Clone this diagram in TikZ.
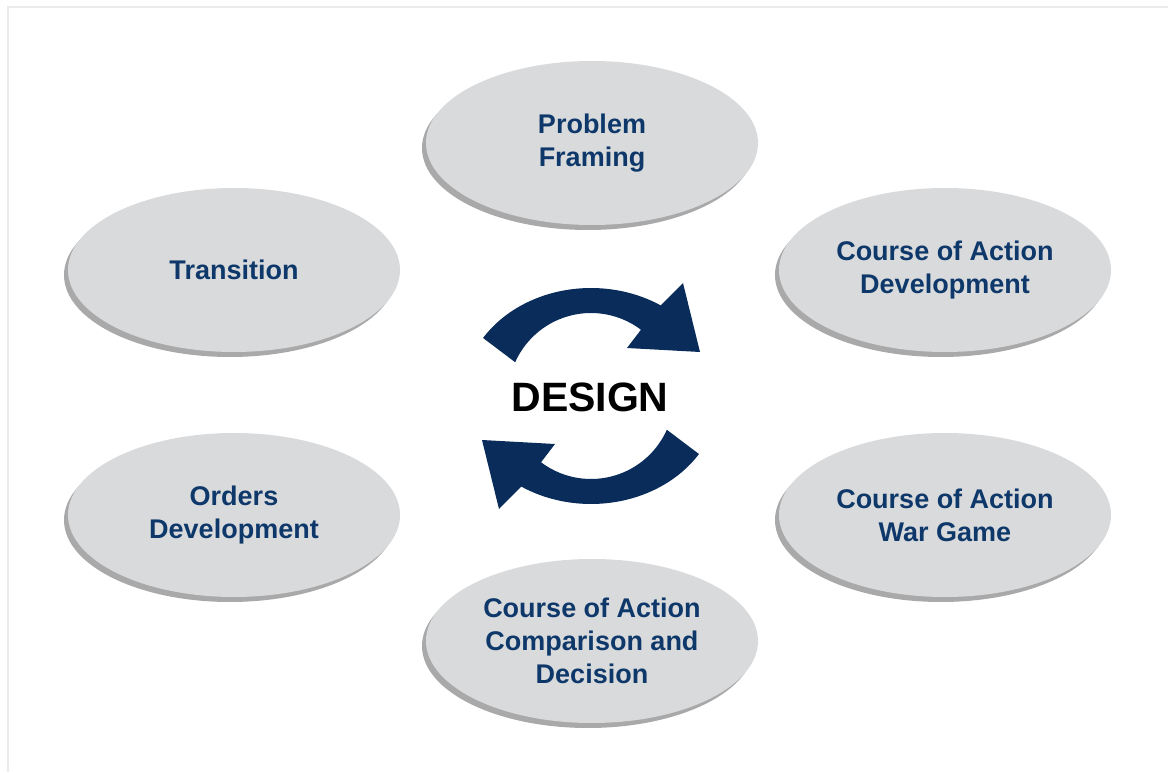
\documentclass[tikz,border=0pt]{standalone}
\usepackage{fontspec}
\setmainfont{Liberation Sans}
\usetikzlibrary{shapes.geometric,shadows}

\definecolor{phasegray}{HTML}{D9DADC}
\definecolor{phaseshade}{HTML}{A9A9AA}
\definecolor{phasetext}{HTML}{0E386A}
\definecolor{cycleblue}{HTML}{0A2C5A}
\definecolor{framegray}{HTML}{EBEBEB}

\tikzset{
	phase/.style={ellipse, fill=phasegray, minimum width=332, minimum height=164, inner sep=0pt,
		general shadow={fill=phaseshade, shadow xshift=-4pt, shadow yshift=-5pt},
		text=phasetext, align=center, font=\fontsize{27}{33}\selectfont\bfseries},
	cyclearrow/.style={fill=cycleblue}
}

\begin{document}
\begin{tikzpicture}[x=1pt, y=1pt]
	\useasboundingbox (0,0) rectangle (1168,772);
	% frame
	\draw [framegray, line width=2.5pt] (8,0) -- (8,765) -- (1168,765);

	% phases
	\node [phase] (problem) at (592,629) {Problem\\Framing};
	\node [phase] (transition) at (234,502) {Transition};
	\node [phase] (coadev) at (945,502) {Course of Action\\Development};
	\node [phase] (orders) at (234,257) {Orders\\Development};
	\node [phase] (wargame) at (945,257) {Course of Action\\War Game};
	\node [phase] (compare) at (592,131) {Course of Action\\Comparison and\\Decision};

	% cycle arrows
	\foreach \r in {0,180} {
		\begin{scope}[shift={(591,376)}, rotate=\r]
			\fill [cyclearrow] (147.5:128 and 108) arc[start angle=147.5, end angle=57, x radius=128, y radius=108]
				-- (92,113) -- (109,44) -- (36,48) -- (53:83)
				arc[start angle=53, end angle=156, radius=83] -- cycle;
		\end{scope}
	}
	\node [font=\fontsize{41}{41}\selectfont\bfseries] (design) at (590,375) {DESIGN};
\end{tikzpicture}
\end{document}
